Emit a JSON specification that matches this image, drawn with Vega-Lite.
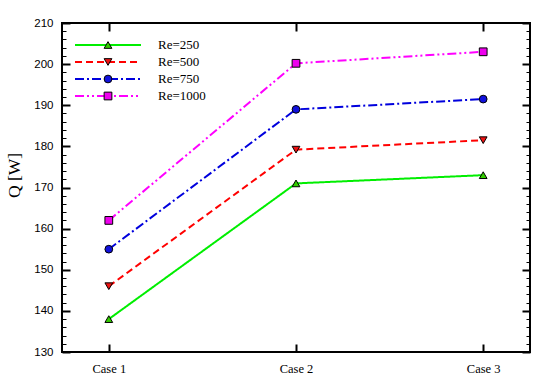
{
  "$schema": "https://vega.github.io/schema/vega-lite/v6.json",
  "width": 468,
  "height": 329,
  "autosize": {"type": "none"},
  "padding": {"left": 62, "top": 23, "right": 20, "bottom": 37},
  "background": "white",
  "config": {
    "view": {"stroke": "#000", "strokeWidth": 2},
    "axis": {"domain": false, "grid": false, "tickColor": "#000", "labelColor": "#000", "titleColor": "#000", "labelOverlap": false, "labelFlush": false}
  },
  "data": {
    "values": [
      {"Case": "Case 1", "Re": "Re=250", "Q": 138},
      {"Case": "Case 2", "Re": "Re=250", "Q": 171},
      {"Case": "Case 3", "Re": "Re=250", "Q": 173},
      {"Case": "Case 1", "Re": "Re=500", "Q": 146},
      {"Case": "Case 2", "Re": "Re=500", "Q": 179.2},
      {"Case": "Case 3", "Re": "Re=500", "Q": 181.5},
      {"Case": "Case 1", "Re": "Re=750", "Q": 155},
      {"Case": "Case 2", "Re": "Re=750", "Q": 189},
      {"Case": "Case 3", "Re": "Re=750", "Q": 191.5},
      {"Case": "Case 1", "Re": "Re=1000", "Q": 162},
      {"Case": "Case 2", "Re": "Re=1000", "Q": 200.2},
      {"Case": "Case 3", "Re": "Re=1000", "Q": 203}
    ]
  },
  "layer": [
    {
      "mark": {"type": "line", "strokeWidth": 2},
      "encoding": {
        "x": {
          "field": "Case", "type": "nominal",
          "scale": {"type": "point", "padding": 0.25},
          "axis": {"orient": "bottom", "title": null, "labelAngle": 0, "tickSize": -8, "tickWidth": 2, "labelPadding": 18, "labelFont": "Liberation Serif", "labelFontSize": 12.5}
        },
        "y": {
          "field": "Q", "type": "quantitative",
          "scale": {"domain": [130, 210], "nice": false, "zero": false},
          "axis": {
            "orient": "left",
            "values": [130,132,134,136,138,140,142,144,146,148,150,152,154,156,158,160,162,164,166,168,170,172,174,176,178,180,182,184,186,188,190,192,194,196,198,200,202,204,206,208,210],
            "labelExpr": "datum.value % 10 === 0 ? datum.label : ''",
            "tickSize": {"condition": {"test": "datum.value % 10 === 0", "value": -8}, "value": -4},
            "tickWidth": {"condition": {"test": "datum.value % 10 === 0", "value": 2}, "value": 1},
            "labelPadding": 17,
            "labelFont": "Liberation Sans", "labelFontSize": 11.5,
            "title": "Q [W]", "titleFont": "Liberation Serif", "titleFontSize": 17.5, "titleFontWeight": "normal", "titlePadding": 10, "titleY": 152
          }
        },
        "color": {
          "field": "Re", "type": "nominal",
          "scale": {"domain": ["Re=250", "Re=500", "Re=750", "Re=1000"], "range": ["#00ee00", "#ff0000", "#0000dd", "#ff00ff"]},
          "legend": {"orient": "none", "legendX": 39.5, "legendY": 15.5, "title": null, "padding": 0, "symbolType": "M-6,0H6", "symbolSize": 121, "symbolStrokeWidth": 2, "labelFont": "Liberation Serif", "labelFontSize": 13, "labelColor": "#000", "labelOffset": 43.5, "rowPadding": 3}
        },
        "strokeDash": {
          "field": "Re", "type": "nominal",
          "scale": {"domain": ["Re=250", "Re=500", "Re=750", "Re=1000"], "range": [[1, 0], [7, 4], [9, 3, 2, 3], [9, 3, 2, 3, 2, 3]]},
          "legend": {"orient": "none", "legendX": 39.5, "legendY": 15.5, "title": null, "padding": 0, "symbolType": "M-6,0H6", "symbolSize": 121, "symbolStrokeWidth": 2, "labelFont": "Liberation Serif", "labelFontSize": 13, "labelColor": "#000", "labelOffset": 43.5, "rowPadding": 3}
        }
      }
    },
    {
      "mark": {"type": "point", "filled": true, "size": 60, "stroke": "#000", "strokeWidth": 1, "opacity": 1},
      "encoding": {
        "x": {
          "field": "Case", "type": "nominal",
          "axis": {"orient": "top", "title": null, "labels": false, "tickSize": -8, "tickWidth": 2}
        },
        "y": {
          "field": "Q", "type": "quantitative",
          "axis": {
            "orient": "right", "labels": false, "title": null,
            "values": [130,132,134,136,138,140,142,144,146,148,150,152,154,156,158,160,162,164,166,168,170,172,174,176,178,180,182,184,186,188,190,192,194,196,198,200,202,204,206,208,210],
            "tickSize": {"condition": {"test": "datum.value % 10 === 0", "value": -8}, "value": -4},
            "tickWidth": {"condition": {"test": "datum.value % 10 === 0", "value": 2}, "value": 1}
          }
        },
        "fill": {
          "field": "Re", "type": "nominal", "sort": ["Re=250", "Re=500", "Re=750", "Re=1000"],
          "scale": {"range": ["#33cc00", "#ee1111", "#1111dd", "#ee00ee"]},
          "legend": null
        },
        "shape": {
          "field": "Re", "type": "nominal", "sort": ["Re=250", "Re=500", "Re=750", "Re=1000"],
          "scale": {"range": ["triangle-up", "triangle-down", "circle", "square"]},
          "legend": {
            "orient": "none", "legendX": 39.5, "legendY": 15.5, "title": null, "padding": 0, "symbolSize": 60, "symbolStrokeColor": "#000", "symbolStrokeWidth": 1, "symbolOpacity": 1, "labelFont": "Liberation Serif", "labelFontSize": 13, "labelExpr": "''", "rowPadding": 3,
            "symbolFillColor": {"expr": "datum.value === 'Re=250' ? '#33cc00' : datum.value === 'Re=500' ? '#ee1111' : datum.value === 'Re=750' ? '#1111dd' : '#ee00ee'"}
          }
        }
      }
    }
  ],
  "resolve": {"axis": {"x": "independent", "y": "independent"}}
}
